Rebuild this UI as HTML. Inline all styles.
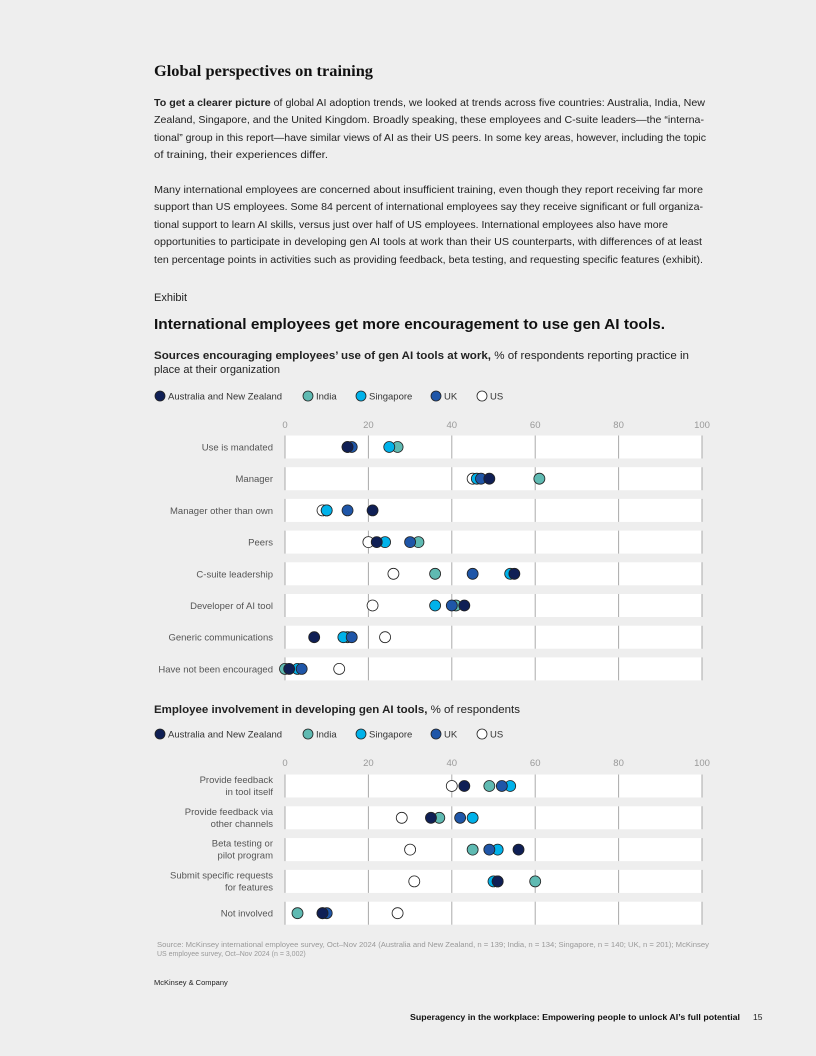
<!DOCTYPE html>
<html><head><meta charset="utf-8"><style>
html,body{margin:0;padding:0;background:#eeeeee;}
svg{display:block;font-family:"Liberation Sans",sans-serif;}
</style></head><body>
<svg id="page" width="816" height="1056" viewBox="0 0 816 1056" xmlns="http://www.w3.org/2000/svg">
<rect width="816" height="1056" fill="#eeeeee"/>
<text x="154" y="76" font-family="Liberation Serif,serif" font-weight="bold" font-size="16" fill="#111" textLength="219" lengthAdjust="spacingAndGlyphs">Global perspectives on training</text>
<g font-size="10.5" fill="#222">
<text x="154" y="106" textLength="551" lengthAdjust="spacingAndGlyphs"><tspan font-weight="bold">To get a clearer picture</tspan> of global AI adoption trends, we looked at trends across five countries: Australia, India, New</text>
<text x="154" y="123" textLength="550" lengthAdjust="spacingAndGlyphs">Zealand, Singapore, and the United Kingdom. Broadly speaking, these employees and C-suite leaders—the “interna-</text>
<text x="154" y="141" textLength="552" lengthAdjust="spacingAndGlyphs">tional” group in this report—have similar views of AI as their US peers. In some key areas, however, including the topic</text>
<text x="154" y="158" textLength="174" lengthAdjust="spacingAndGlyphs">of training, their experiences differ.</text>
</g>
<g font-size="10.5" fill="#222">
<text x="154" y="193" textLength="549" lengthAdjust="spacingAndGlyphs">Many international employees are concerned about insufficient training, even though they report receiving far more</text>
<text x="154" y="210" textLength="549" lengthAdjust="spacingAndGlyphs">support than US employees. Some 84 percent of international employees say they receive significant or full organiza-</text>
<text x="154" y="228" textLength="514" lengthAdjust="spacingAndGlyphs">tional support to learn AI skills, versus just over half of US employees. International employees also have more</text>
<text x="154" y="245" textLength="548" lengthAdjust="spacingAndGlyphs">opportunities to participate in developing gen AI tools at work than their US counterparts, with differences of at least</text>
<text x="154" y="263" textLength="549" lengthAdjust="spacingAndGlyphs">ten percentage points in activities such as providing feedback, beta testing, and requesting specific features (exhibit).</text>
</g>
<text x="154" y="301" font-size="11" fill="#222">Exhibit</text>
<text x="154" y="329" font-size="15" font-weight="bold" fill="#111" textLength="511" lengthAdjust="spacingAndGlyphs">International employees get more encouragement to use gen AI tools.</text>
<text x="154" y="359" font-size="11" fill="#222" textLength="535" lengthAdjust="spacingAndGlyphs"><tspan font-weight="bold">Sources encouraging employees’ use of gen AI tools at work,</tspan> % of respondents reporting practice in</text>
<text x="154" y="373" font-size="11" fill="#222">place at their organization</text>
<text x="154" y="713" font-size="11" fill="#222" textLength="366" lengthAdjust="spacingAndGlyphs"><tspan font-weight="bold">Employee involvement in developing gen AI tools,</tspan> % of respondents</text>
<g id="charts"></g>
<g font-size="7" fill="#999">
<text x="157" y="947" textLength="552" lengthAdjust="spacingAndGlyphs">Source: McKinsey international employee survey, Oct–Nov 2024 (Australia and New Zealand, n = 139; India, n = 134; Singapore, n = 140; UK, n = 201); McKinsey</text>
<text x="157" y="956">US employee survey, Oct–Nov 2024 (n = 3,002)</text>
</g>
<text x="154" y="985" font-size="7.5" fill="#222">McKinsey &amp; Company</text>
<text x="410" y="1020" font-size="8.5" font-weight="bold" fill="#111" textLength="330" lengthAdjust="spacingAndGlyphs">Superagency in the workplace: Empowering people to unlock AI’s full potential</text>
<text x="753" y="1020" font-size="8.5" fill="#222">15</text>
</svg>
<script>
const seriesNames = ["Australia and New Zealand","India","Singapore","UK","US"];
const seriesColors = ["#0f1f55","#5fbab2","#00b2ea","#1f56a8","#ffffff"];
const ticks = [0,20,40,60,80,100];
const cats1 = ["Use is mandated","Manager","Manager other than own","Peers","C-suite leadership","Developer of AI tool","Generic communications","Have not been encouraged"];
const anz1 = [15,49,21,22,55,43,7,1];
const india1 = [27,61,10,32,36,41,15,0];
const sing1 = [25,46,10,24,54,36,14,3];
const uk1 = [16,47,15,30,45,40,16,4];
const us1 = [15,45,9,20,26,21,24,13];
const cats2 = [["Provide feedback","in tool itself"],["Provide feedback via","other channels"],["Beta testing or","pilot program"],["Submit specific requests","for features"],["Not involved"]];
const anz2 = [43,35,56,51,9];
const india2 = [49,37,45,60,3];
const sing2 = [54,45,51,50,9];
const uk2 = [52,42,49,51,10];
const us2 = [40,28,30,31,27];

const NS="http://www.w3.org/2000/svg";
const root=document.getElementById('charts');
function mk(tag,attrs,parent){const e=document.createElementNS(NS,tag);for(const k in attrs)e.setAttribute(k,attrs[k]);parent.appendChild(e);return e;}
const x=v=>285+v*4.17;

function legend(y,name){
  const g=mk('g',{},root);
  
  
  const lx=[160,308,361,436,482];
  seriesNames.forEach((s,i)=>{
    const it=mk('g',{},g);
    
    
    mk('circle',{cx:lx[i],cy:y,r:5,fill:seriesColors[i],stroke:'#222','stroke-width':0.8},it);
    const t=mk('text',{x:lx[i]+8,y:y+3.5,'font-size':9.5,fill:'#333'},it);t.textContent=s;
  });
}

function chart(cats,series,axisY,y0,step,name){
  const g=mk('g',{},root);
  
  
  ticks.forEach(t=>{
    const tx=mk('text',{x:x(t),y:axisY,'font-size':9.5,fill:'#999','text-anchor':'middle'},g);
    
    
    tx.textContent=t;
  });
  cats.forEach((c,i)=>{
    const cy=y0+i*step;
    const row=mk('g',{},g);
    
    
    mk('rect',{x:x(0),y:cy-11.5,width:x(100)-x(0),height:23,fill:'#fff'},row);
    ticks.forEach(t=>mk('line',{x1:x(t),x2:x(t),y1:cy-11.5,y2:cy+11.5,stroke:'#aaa','stroke-width':1},row));
    const lines=Array.isArray(c)?c:[c];
    lines.forEach((l,j)=>{
      const off=lines.length===2?(j===0?-3:9):3.5;
      const tx=mk('text',{x:273,y:cy+off,'font-size':9.5,fill:'#555','text-anchor':'end'},row);
      
      
      tx.textContent=l;
    });
    [4,1,2,3,0].forEach(si=>{
      const d=mk('circle',{cx:x(series[si][i]),cy:cy,r:5.5,fill:seriesColors[si],stroke:'#222','stroke-width':0.8},row);
      
      
    });
  });
}
legend(396,'chart1-legend');
chart(cats1,[anz1,india1,sing1,uk1,us1],428,447,31.7,'chart1-sources');
legend(734,'chart2-legend');
chart(cats2,[anz2,india2,sing2,uk2,us2],766,786,31.8,'chart2-involvement');
</script>
</body></html>
